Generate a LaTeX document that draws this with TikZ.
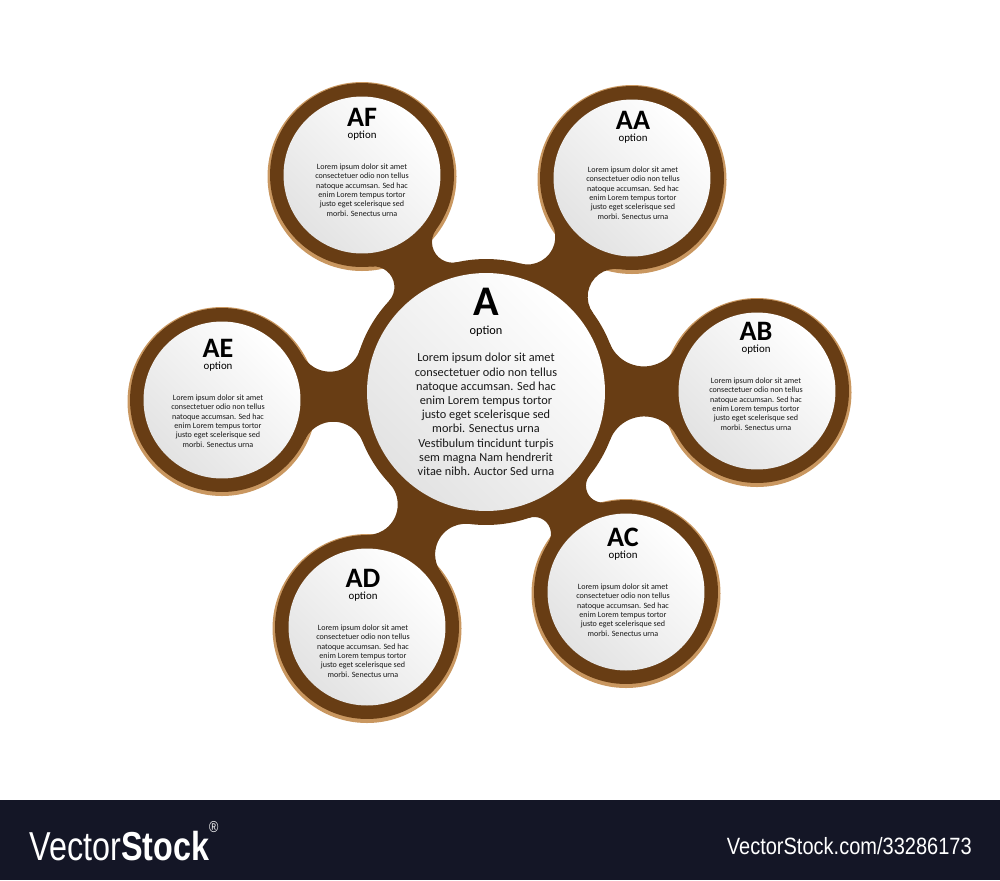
\documentclass[tikz,border=0pt]{standalone}
\usepackage{graphicx}
\usepackage{fontspec}
\setmainfont{Carlito}
\newfontfamily\barfont{Liberation Sans}

\definecolor{brownC}{RGB}{104,61,20}
\definecolor{tanC}{RGB}{201,151,96}
\definecolor{barC}{RGB}{20,22,38}
\definecolor{inkC}{RGB}{25,25,25}

\newcommand{\loremshort}{Lorem ipsum dolor sit amet\\consectetuer odio non tellus\\natoque accumsan. Sed hac\\enim Lorem tempus tortor\\justo eget scelerisque sed\\morbi. Senectus urna}

\tikzset{
  disc/.style={circle, fill=brownC, inner sep=0pt, minimum size=3.68cm},
  hubdisc/.style={disc, minimum size=5.32cm},
  face/.style={circle, inner sep=0pt, minimum size=3.14cm,
               left color=black!11, right color=white, shading angle=135},
  hubface/.style={face, minimum size=4.76cm},
  ttl/.style={inner sep=0pt, font=\bfseries\fontsize{16}{16}\selectfont},
  opt/.style={inner sep=0pt, font=\fontsize{6.2}{6.2}\selectfont},
  txt/.style={inner sep=0pt, align=center, text=inkC, font=\fontsize{4.6}{5.33}\selectfont},
  bigttl/.style={ttl, font=\bfseries\fontsize{24}{24}\selectfont},
  bigopt/.style={opt, font=\fontsize{7}{7}\selectfont},
  bigtxt/.style={txt, font=\fontsize{7}{8.1}\selectfont}
}

\begin{document}
\begin{tikzpicture}[x=0.02cm, y=-0.02cm]
\useasboundingbox (0,0) rectangle (1000,880);

% Rims
\foreach \nm/\cx/\cy/\rf/\tx/\ty in {AF/362/175/20.7/362/117, AA/632/178/27.8/633/120,
    AB/757/391/36.7/756/331, AC/626/592/16.7/623/537,
    AD/367/627/30.6/363/578, AE/222/400/31.4/218/348}
  \fill[tanC] (\cx,\cy+1.5) circle[radius=94.5];

% Discs
\node[hubdisc] (hub) at (486,392) {};
\foreach \nm/\cx/\cy/\rf/\tx/\ty in {AF/362/175/20.7/362/117, AA/632/178/27.8/633/120,
    AB/757/391/36.7/756/331, AC/626/592/16.7/623/537,
    AD/367/627/30.6/363/578, AE/222/400/31.4/218/348}
  \node[disc] (\nm) at (\cx,\cy) {};

% Bridges
\foreach \nm/\cx/\cy/\rf/\tx/\ty in {AF/362/175/20.7/362/117, AA/632/178/27.8/633/120,
    AB/757/391/36.7/756/331, AC/626/592/16.7/623/537,
    AD/367/627/30.6/363/578, AE/222/400/31.4/218/348} {

    % fillet centres
    \pgfmathsetmacro\ddx{(\cx-486)/100}
    \pgfmathsetmacro\ddy{(\cy-392)/100}
    \pgfmathsetmacro\dist{veclen(\ddx,\ddy)}
    \pgfmathsetmacro\rfa{(133+\rf)/100}
    \pgfmathsetmacro\rfb{(92+\rf)/100}
    \pgfmathsetmacro\gam{acos((\rfa*\rfa+\dist*\dist-\rfb*\rfb)/(2*\rfa*\dist))}
    \pgfmathsetmacro\dir{atan2(\ddy,\ddx)}
    \pgfmathsetmacro\fxa{486+\rfa*100*cos(\dir+\gam)}
    \pgfmathsetmacro\fya{392+\rfa*100*sin(\dir+\gam)}
    \pgfmathsetmacro\fxb{486+\rfa*100*cos(\dir-\gam)}
    \pgfmathsetmacro\fyb{392+\rfa*100*sin(\dir-\gam)}

    % fillet arcs
    \pgfmathsetmacro\sa{atan2(392-\fya,486-\fxa)}
    \pgfmathsetmacro\ea{atan2(\cy-\fya,\cx-\fxa)}
    \pgfmathsetmacro\da{mod(\ea-\sa+540,360)-180}
    \pgfmathsetmacro\sb{atan2(\cy-\fyb,\cx-\fxb)}
    \pgfmathsetmacro\eb{atan2(392-\fyb,486-\fxb)}
    \pgfmathsetmacro\db{mod(\eb-\sb+540,360)-180}
    \pgfmathsetmacro\txa{\fxa+\rf*cos(\sa)}
    \pgfmathsetmacro\tya{\fya+\rf*sin(\sa)}
    \pgfmathsetmacro\txb{\fxb+\rf*cos(\sb)}
    \pgfmathsetmacro\tyb{\fyb+\rf*sin(\sb)}

    \coordinate (\nm-a) at (\txa,\tya);
    \coordinate (\nm-b) at (\txb,\tyb);

    \fill[brownC] (hub.center) -- (\nm-a)
      arc[start angle=\sa, delta angle=\da, radius=\rf]
      -- (\nm.center) -- (\nm-b)
      arc[start angle=\sb, delta angle=\db, radius=\rf] -- cycle;
}

% Faces and texts
\node[hubface] (hub-in) at (hub) {};
\node[bigttl] (hub-t) at (486,302) {A};
\node[bigopt] (hub-o) at (486,331) {option};
\node[bigtxt] (hub-x) at (486,414.5) {\loremshort\\Vestibulum tincidunt turpis\\sem magna Nam hendrerit\\vitae nibh. Auctor Sed urna};

\foreach \nm/\cx/\cy/\rf/\tx/\ty in {AF/362/175/20.7/362/117, AA/632/178/27.8/633/120,
    AB/757/391/36.7/756/331, AC/626/592/16.7/623/537,
    AD/367/627/30.6/363/578, AE/222/400/31.4/218/348} {
  \node[face] (\nm-in) at (\nm) {};
  \node[ttl] (\nm-t) at (\tx,\ty) {\nm};
  \node[opt] (\nm-o) at (\tx,\ty+19) {option};
  \node[txt] (\nm-x) at (\tx,\ty+73) {\loremshort};
}

% Footer
\fill[barC] (0,800) rectangle (1000,880);
\node[anchor=west, inner sep=0pt, text=white] (logo) at (29,841)
  {\barfont\scalebox{0.8}[1]{\fontsize{23}{23}\selectfont Vector\textbf{Stock}\raisebox{1.3ex}{\fontsize{9}{9}\selectfont\textregistered}}};
\node[anchor=east, inner sep=0pt, text=white] (url) at (972,846)
  {\barfont\scalebox{0.85}[1]{\fontsize{13.4}{13.4}\selectfont VectorStock.com/33286173}};

\end{tikzpicture}
\end{document}
